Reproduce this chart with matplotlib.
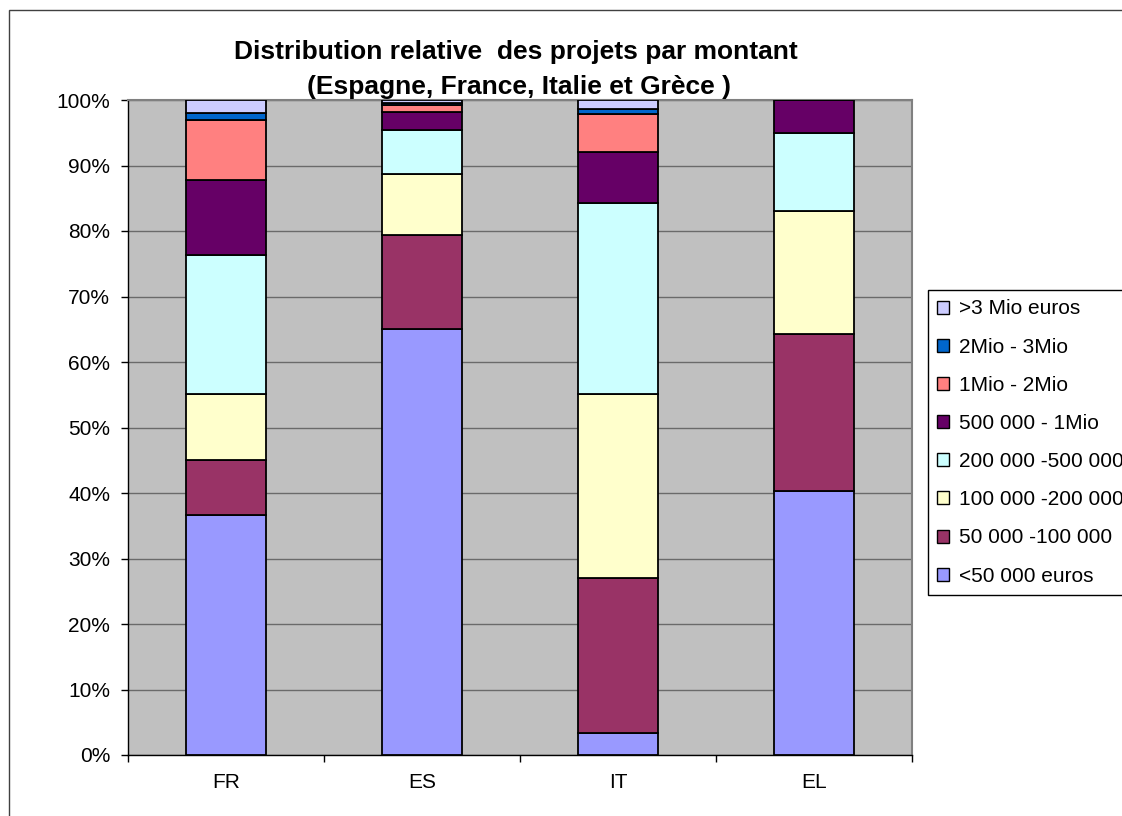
import matplotlib
matplotlib.use("Agg")
import matplotlib.pyplot as plt
from matplotlib.patches import Rectangle
import numpy as np

plt.rcParams['font.family'] = ['Liberation Sans', 'DejaVu Sans']

countries = ["FR", "ES", "IT", "EL"]
categories = ["<50 000 euros", "50 000 -100 000", "100 000 -200 000", "200 000 -500 000",
              "500 000 - 1Mio", "1Mio - 2Mio", "2Mio - 3Mio", ">3 Mio euros"]
# percentage values per category for FR, ES, IT, EL
lt50k      = [36.7, 65.1, 3.3, 40.3]
k50_100    = [8.3, 14.3, 23.7, 23.9]
k100_200   = [10.1, 9.3, 28.1, 18.9]
k200_500   = [21.3, 6.7, 29.2, 11.9]
k500_1m    = [11.4, 2.8, 7.7, 5.0]
m1_2       = [9.2, 1.0, 5.8, 0.0]
m2_3       = [1.0, 0.4, 0.8, 0.0]
gt3m       = [2.0, 0.4, 1.4, 0.0]
series = [lt50k, k50_100, k100_200, k200_500, k500_1m, m1_2, m2_3, gt3m]
colors = ["#9999FF", "#993366", "#FFFFCC", "#CCFFFF", "#660066", "#FF8080", "#0066CC", "#CCCCFF"]
yticks = [0, 10, 20, 30, 40, 50, 60, 70, 80, 90, 100]

W, H = 1122, 816
fig = plt.figure(figsize=(W / 100, H / 100), dpi=100)
fig.patch.set_facecolor("white")

# outer chart border
fig.patches.append(Rectangle((9 / W, -0.05), 1.2, 1 - 10 / H + 0.05, transform=fig.transFigure,
                             fill=False, edgecolor="#404040", linewidth=1.0))

left, right, top, bottom = 128, 912, 100, 755
ax = fig.add_axes([left / W, 1 - bottom / H, (right - left) / W, (bottom - top) / H])
ax.set_facecolor("#C0C0C0")

x = np.arange(len(countries))
base = np.zeros(len(countries))
handles = []
for vals, col, lab in zip(series, colors, categories):
    v = np.array(vals, dtype=float)
    b = ax.bar(x, v, bottom=base, width=0.405, color=col, edgecolor="black",
               linewidth=1.3, label=lab, zorder=3)
    handles.append(b)
    base += v

ax.set_xlim(-0.5, 3.5)
ax.set_ylim(0, 100)
ax.set_yticks(yticks)
ax.set_yticklabels([f"{t}%" for t in yticks], fontsize=15)
ax.set_xticks(x)
ax.set_xticklabels(countries, fontsize=15)
ax.set_xticks(np.arange(-0.5, 4.0, 1.0), minor=True)
ax.tick_params(axis="x", which="major", length=0, pad=13)
ax.tick_params(axis="x", which="minor", length=4.7, width=1, direction="out", color="black")
ax.tick_params(axis="y", length=4.7, width=1, direction="out", pad=8)
ax.yaxis.grid(True, color="#6A6A6A", linewidth=1.0, zorder=0)
ax.set_axisbelow(True)
for s in ["top", "right"]:
    ax.spines[s].set_color("#808080")
    ax.spines[s].set_linewidth(1.5)
for s in ["left", "bottom"]:
    ax.spines[s].set_color("black")
    ax.spines[s].set_linewidth(1.0)

# title (two lines)
fig.text(516 / W, 1 - 52 / H, "Distribution relative  des projets par montant",
         fontsize=19, fontweight="bold", ha="center", va="center")
fig.text(519 / W, 1 - 87 / H, "(Espagne, France, Italie et Grèce )",
         fontsize=19, fontweight="bold", ha="center", va="center")

leg = fig.legend(handles[::-1], categories[::-1], loc="upper left",
                 bbox_to_anchor=(928 / W, 1 - 290 / H), fontsize=15,
                 frameon=True, fancybox=False, framealpha=1, edgecolor="black",
                 handlelength=0.58, handleheight=0.58, handletextpad=0.48,
                 labelspacing=0.92, borderpad=0.45, borderaxespad=0)
leg.get_frame().set_linewidth(1.0)
for h in leg.legend_handles:
    h.set_linewidth(1.0)

fig.savefig("out.png", dpi=100)
